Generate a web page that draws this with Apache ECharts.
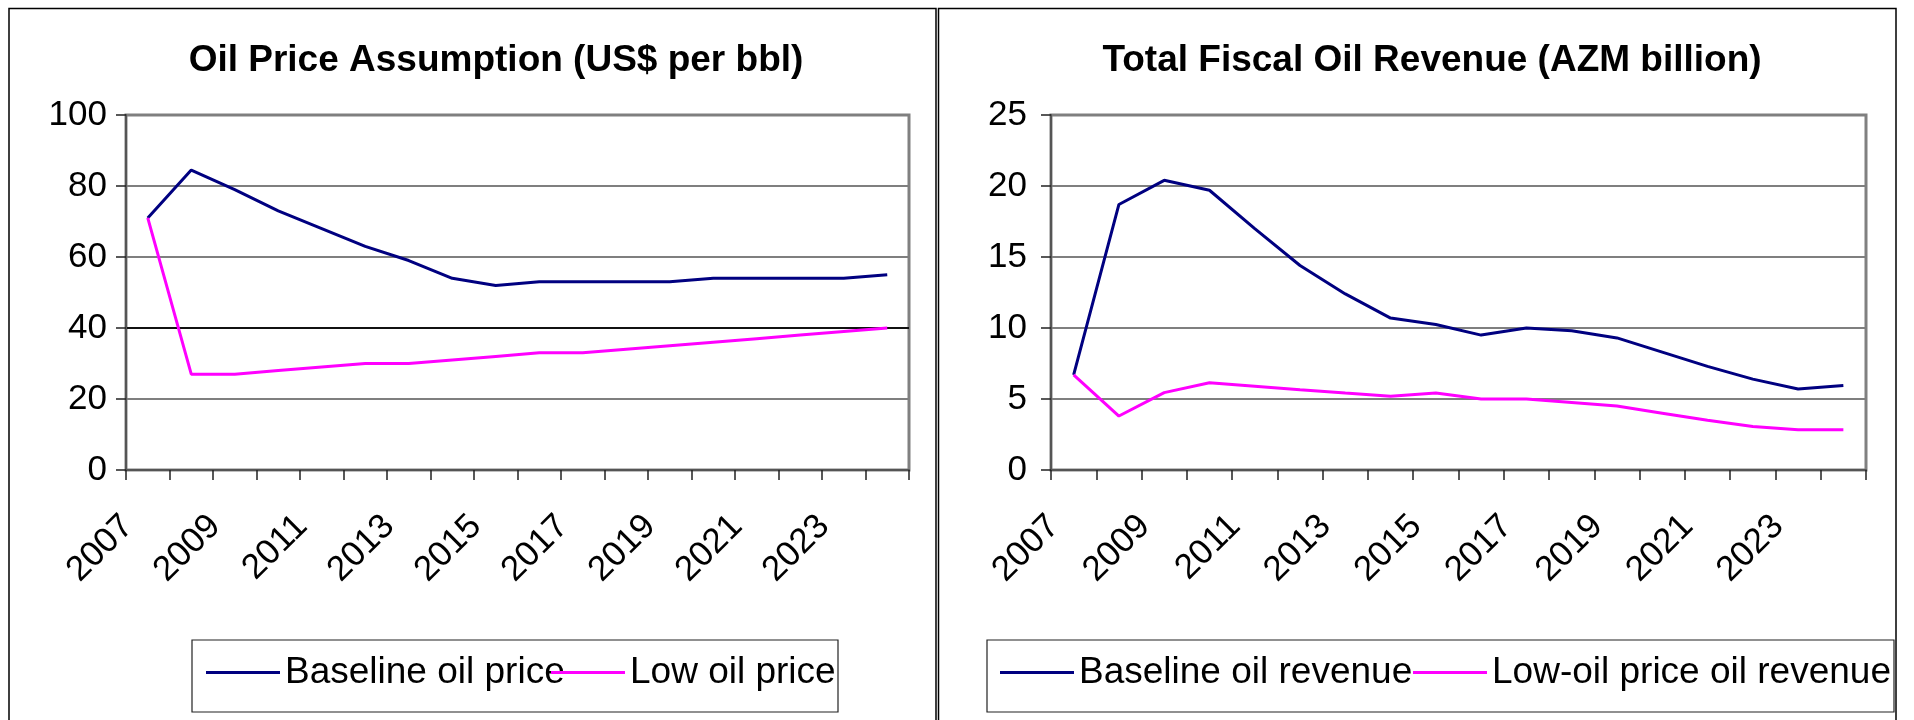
<!DOCTYPE html>
<html>
<head>
<meta charset="utf-8">
<script src="https://cdn.jsdelivr.net/npm/echarts@6/dist/echarts.min.js"></script>
<style>
html,body{margin:0;padding:0;background:#fff;}
#chart{width:1914px;height:720px;}
</style>
</head>
<body>
<div id="chart"></div>
<script>
// ---- data ----
const years = ['2007','2008','2009','2010','2011','2012','2013','2014','2015','2016','2017','2018','2019','2020','2021','2022','2023','2024'];
const baselinePrice = [71, 84.5, 79, 73, 68, 63, 59, 54, 52, 53, 53, 53, 53, 54, 54, 54, 54, 55];
const lowPrice      = [71, 27, 27, 28, 29, 30, 30, 31, 32, 33, 33, 34, 35, 36, 37, 38, 39, 40];
const baselineRevenue = [6.7, 18.7, 20.4, 19.7, 17.0, 14.4, 12.4, 10.7, 10.25, 9.5, 10.0, 9.8, 9.3, 8.3, 7.3, 6.4, 5.7, 5.95];
const lowRevenue      = [6.7, 3.8, 5.45, 6.15, 5.9, 5.65, 5.42, 5.2, 5.42, 5.0, 5.0, 4.75, 4.5, 4.0, 3.5, 3.07, 2.84, 2.84];
const titles = ['Oil Price Assumption (US$ per bbl)', 'Total Fiscal Oil Revenue (AZM billion)'];
const seriesNames = ['Baseline oil price', 'Low oil price', 'Baseline oil revenue', 'Low-oil price oil revenue'];

const FONT = '"Liberation Sans", Arial, Helvetica, sans-serif';
const BLUE = '#000080';
const PINK = '#FF00FF';

const chart = echarts.init(document.getElementById('chart'));

function xAxis(gridIndex) {
  return {
    type: 'category', gridIndex: gridIndex, data: years, boundaryGap: true,
    axisLine: { lineStyle: { color: '#555', width: 2 } },
    axisTick: { show: true, interval: 0, length: 10, lineStyle: { color: '#222', width: 1.5 } },
    axisLabel: { interval: 1, rotate: 45, margin: 31, padding: [0, 28, 0, 0], fontSize: 35, fontFamily: FONT, color: '#000' },
    splitLine: { show: false }
  };
}
function yAxis(gridIndex, max, interval, margin, gridColors) {
  return {
    type: 'value', gridIndex: gridIndex, min: 0, max: max, interval: interval,
    axisLine: { show: true, lineStyle: { color: '#555', width: 2 } },
    axisTick: { show: true, length: 10, lineStyle: { color: '#222', width: 1.5 } },
    axisLabel: { margin: margin, fontSize: 35, fontFamily: FONT, color: '#000' },
    splitLine: { show: true, lineStyle: { color: gridColors, width: 2 } }
  };
}
function legend(name, left) {
  return {
    data: [name], left: left, top: 654, padding: 0, icon: 'rect',
    itemWidth: 74, itemHeight: 3, selectedMode: false,
    textStyle: { fontSize: 37, fontFamily: FONT, color: '#000' }
  };
}

const option = {
  backgroundColor: '#fff',
  animation: false,
  title: [
    { text: titles[0], left: 491, top: 56, textAlign: 'center', textVerticalAlign: 'middle',
      textStyle: { fontSize: 37, fontWeight: 'bold', fontFamily: FONT, color: '#000' } },
    { text: titles[1], left: 1427, top: 56, textAlign: 'center', textVerticalAlign: 'middle',
      textStyle: { fontSize: 37, fontWeight: 'bold', fontFamily: FONT, color: '#000' } }
  ],
  grid: [
    { left: 126, top: 115, width: 783, height: 355, show: true, borderColor: '#808080', borderWidth: 3, backgroundColor: '#fff' },
    { left: 1051, top: 115, width: 815, height: 355, show: true, borderColor: '#808080', borderWidth: 3, backgroundColor: '#fff' }
  ],
  xAxis: [xAxis(0), xAxis(1)],
  yAxis: [
    yAxis(0, 100, 20, 19, ['#7f7f7f', '#7f7f7f', '#111', '#7f7f7f', '#7f7f7f', '#7f7f7f']),
    yAxis(1, 25, 5, 24, ['#7f7f7f'])
  ],
  legend: [
    legend(seriesNames[0], 206),
    legend(seriesNames[1], 551),
    legend(seriesNames[2], 1000),
    legend(seriesNames[3], 1413)
  ],
  graphic: [
    { type: 'rect', shape: { x: 9, y: 8.5, width: 927, height: 800 }, style: { fill: null, stroke: '#000', lineWidth: 1.5 }, silent: true, z: -1 },
    { type: 'rect', shape: { x: 938.5, y: 8.5, width: 957.5, height: 800 }, style: { fill: null, stroke: '#000', lineWidth: 1.5 }, silent: true, z: -1 },
    { type: 'rect', shape: { x: 192, y: 640, width: 646, height: 72 }, style: { fill: null, stroke: '#222', lineWidth: 1.2 }, silent: true, z: -1 },
    { type: 'rect', shape: { x: 987, y: 640, width: 907, height: 72 }, style: { fill: null, stroke: '#222', lineWidth: 1.2 }, silent: true, z: -1 }
  ],
  series: [
    { name: seriesNames[0], type: 'line', xAxisIndex: 0, yAxisIndex: 0, data: baselinePrice, symbol: 'none', itemStyle: { color: BLUE }, lineStyle: { color: BLUE, width: 3 } },
    { name: seriesNames[1], type: 'line', xAxisIndex: 0, yAxisIndex: 0, data: lowPrice, symbol: 'none', itemStyle: { color: PINK }, lineStyle: { color: PINK, width: 3 } },
    { name: seriesNames[2], type: 'line', xAxisIndex: 1, yAxisIndex: 1, data: baselineRevenue, symbol: 'none', itemStyle: { color: BLUE }, lineStyle: { color: BLUE, width: 3 } },
    { name: seriesNames[3], type: 'line', xAxisIndex: 1, yAxisIndex: 1, data: lowRevenue, symbol: 'none', itemStyle: { color: PINK }, lineStyle: { color: PINK, width: 3 } }
  ]
};
chart.setOption(option);
</script>
</body>
</html>
